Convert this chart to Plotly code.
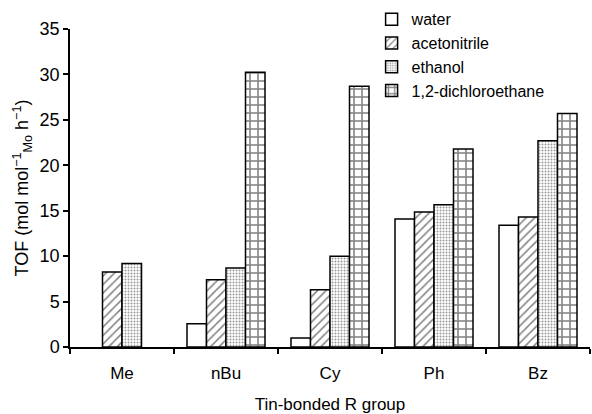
import plotly.graph_objects as go

groups = ["Me", "nBu", "Cy", "Ph", "Bz"]
water = [None, 2.55, 1.0, 14.1, 13.4]
acetonitrile = [8.25, 7.4, 6.3, 14.85, 14.3]
ethanol = [9.2, 8.7, 10.0, 15.65, 22.7]
dichloroethane = [None, 30.25, 28.7, 21.8, 25.7]

y_ticks = [0, 5, 10, 15, 20, 25, 30, 35]

FONT = "Liberation Sans, Arial, Helvetica, sans-serif"
outline = dict(color="black", width=1.5)

fig = go.Figure()
fig.add_trace(go.Bar(
    name="water", x=groups, y=water,
    marker=dict(color="white", line=outline),
))
fig.add_trace(go.Bar(
    name="acetonitrile", x=groups, y=acetonitrile,
    marker=dict(color="white", line=outline,
                pattern=dict(shape="/", fgcolor="black", bgcolor="white",
                             size=6, solidity=0.25)),
))
fig.add_trace(go.Bar(
    name="ethanol", x=groups, y=ethanol,
    marker=dict(color="white", line=outline,
                pattern=dict(shape=".", fgcolor="#333", bgcolor="white",
                             size=3, solidity=0.35)),
))
fig.add_trace(go.Bar(
    name="1,2-dichloroethane", x=groups, y=dichloroethane,
    marker=dict(color="white", line=outline,
                pattern=dict(shape="+", fgcolor="black", bgcolor="white",
                             size=8, solidity=0.35)),
))

fig.update_layout(
    width=592, height=414,
    margin=dict(l=70, r=2, t=25, b=67),
    paper_bgcolor="white", plot_bgcolor="white",
    font=dict(family=FONT, size=17, color="black"),
    barmode="group", bargap=0.25, bargroupgap=0,
    showlegend=True,
    legend=dict(
        x=0.58, y=1.084, xanchor="left", yanchor="top",
        bgcolor="rgba(0,0,0,0)", font=dict(size=16, color="black"),
        itemwidth=30, tracegroupgap=0,
    ),
)
fig.update_xaxes(
    showline=True, linecolor="black", linewidth=1.5,
    ticks="outside", tickson="boundaries", ticklen=5, tickwidth=1.5,
    tickcolor="black", showgrid=False, ticklabelstandoff=10,
    tickfont=dict(size=17, color="black"),
    title=dict(text="Tin-bonded R group", standoff=16,
               font=dict(size=17, color="black")),
)
fig.update_yaxes(
    range=[0, 35], tickvals=y_ticks,
    showline=True, linecolor="black", linewidth=1.5,
    ticks="outside", ticklen=5, tickwidth=1.5, tickcolor="black",
    showgrid=False, zeroline=False,
    tickfont=dict(size=18, color="black"),
    title=dict(text="TOF (mol mol<sup>−1</sup><sub>Mo</sub> h<sup>−1</sup>)",
               standoff=6, font=dict(size=18, color="black")),
)

fig.write_html("out.html")
